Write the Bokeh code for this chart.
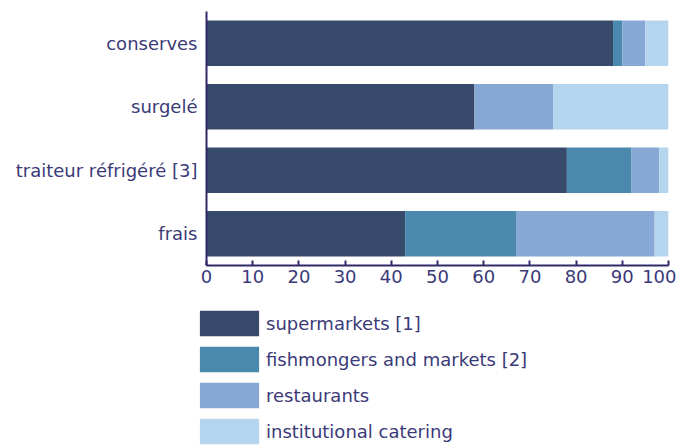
from bokeh.plotting import figure
from bokeh.layouts import column
from bokeh.models import ColumnDataSource, FactorRange, Range1d, Legend, LegendItem, FixedTicker
from bokeh.embed import file_html
from bokeh.resources import INLINE

categories = ["frais", "traiteur réfrigéré [3]", "surgelé", "conserves"]
supermarkets = [43, 78, 58, 88]
fishmongers = [24, 14, 0, 2]
restaurants = [30, 6, 17, 5]
institutional = [3, 2, 25, 5]
series_names = ["supermarkets [1]", "fishmongers and markets [2]", "restaurants", "institutional catering"]
colors = ["#374a6b", "#4a89ad", "#87a8d4", "#b5d5ee"]
x_ticks = [0, 10, 20, 30, 40, 50, 60, 70, 80, 90, 100]

keys = ["s", "f", "r", "i"]
source = ColumnDataSource(dict(cat=categories, s=supermarkets, f=fishmongers, r=restaurants, i=institutional))

TEXT = "#3b3a78"
AXIS = "#302868"
FONT = "DejaVu Sans"
W = 676

p = figure(width=W, height=295, output_backend="svg", toolbar_location=None,
           y_range=FactorRange(factors=categories, range_padding=0),
           x_range=Range1d(0, 100), frame_align=False,
           min_border_left=206, min_border_right=W - 668, min_border_top=11, min_border_bottom=30)

p.hbar_stack(keys, y="cat", height=0.72, color=colors, source=source, line_width=0)

p.outline_line_color = None
p.xgrid.visible = False
p.ygrid.visible = False
p.background_fill_color = "white"

p.xaxis.ticker = FixedTicker(ticks=x_ticks)
p.xaxis.axis_line_color = AXIS
p.xaxis.axis_line_width = 2
p.xaxis.major_tick_line_color = AXIS
p.xaxis.major_tick_line_width = 2
p.xaxis.major_tick_in = 5
p.xaxis.major_tick_out = 0
p.xaxis.minor_tick_line_color = None
p.xaxis.major_label_text_color = TEXT
p.xaxis.major_label_text_font = FONT
p.xaxis.major_label_text_font_size = "18px"
p.xaxis.major_label_standoff = 4

p.yaxis.axis_line_color = AXIS
p.yaxis.axis_line_width = 2
p.yaxis.major_tick_line_color = None
p.yaxis.minor_tick_line_color = None
p.yaxis.major_label_text_color = TEXT
p.yaxis.major_label_text_font = FONT
p.yaxis.major_label_text_font_size = "18px"
p.yaxis.major_label_standoff = 3

# legend figure (area legend glyphs are drawn with a 10% inset)
lf = figure(width=W, height=153, output_backend="svg", toolbar_location=None,
            x_range=Range1d(0, 1), y_range=Range1d(0, 1), frame_align=False,
            min_border_left=192, min_border_right=0, min_border_top=12, min_border_bottom=0)
lf.axis.visible = False
lf.grid.visible = False
lf.outline_line_color = None
lrs = [lf.hbar(y=[-100], left=[0], right=[0], height=0, color=c, line_width=0) for c in colors]
items = [LegendItem(label=n, renderers=[r]) for n, r in zip(series_names, lrs)]
legend = Legend(items=items, location="top_left", orientation="vertical",
                glyph_width=74, glyph_height=32, label_text_font=FONT,
                label_text_font_size="18px", label_text_color=TEXT,
                spacing=4, padding=0, margin=0, label_standoff=0,
                border_line_color=None, background_fill_alpha=0)
lf.add_layout(legend, "center")

layout = column(p, lf, spacing=0)
open("out.html", "w").write(file_html(layout, INLINE))
